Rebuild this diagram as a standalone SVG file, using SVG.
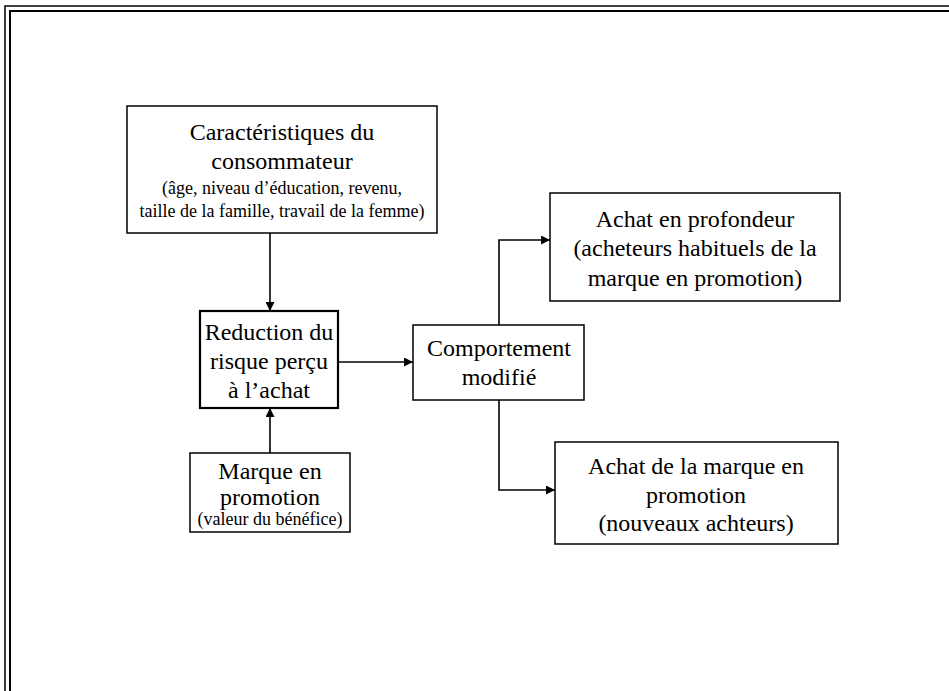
<svg xmlns="http://www.w3.org/2000/svg" width="949" height="691" viewBox="0 0 949 691">
<defs>
<marker id="ah" viewBox="0 0 10 10" refX="10" refY="5" markerWidth="9" markerHeight="9" markerUnits="userSpaceOnUse" orient="auto">
<path d="M0,0 L10,5 L0,10 z" fill="#000"/>
</marker>
<style>
.box{fill:#fff;stroke:#000;stroke-width:1.5}
.bold{stroke-width:2.2}
text{font-family:"Liberation Serif","Times New Roman",serif;fill:#000;text-anchor:middle}
.t{font-size:24px}
.s{font-size:18px}
.c{fill:none;stroke:#000;stroke-width:1.6}
.f{fill:none;stroke:#000}
</style>
</defs>
<rect width="949" height="691" fill="#fff"/>
<g id="frame">
<path class="f" stroke-width="1.5" d="M5,691 V6 H949"/>
<path class="f" stroke-width="2" d="M10,691 V11 H949"/>
</g>
<g id="connectors">
<path class="c" d="M270,233 V311" marker-end="url(#ah)"/>
<path class="c" d="M270,453 V408" marker-end="url(#ah)"/>
<path class="c" d="M338,362 H413" marker-end="url(#ah)"/>
<path class="c" d="M499,325 V240 H550" marker-end="url(#ah)"/>
<path class="c" d="M499,400 V490 H555" marker-end="url(#ah)"/>
</g>
<g id="consommateur">
<rect class="box" x="127" y="106" width="310" height="127"/>
<text class="t" x="282" y="140">Caractéristiques du</text>
<text class="t" x="282" y="169">consommateur</text>
<text class="s" x="282" y="194">(âge, niveau d’éducation, revenu,</text>
<text class="s" x="282" y="217">taille de la famille, travail de la femme)</text>
</g>
<g id="reduction">
<rect class="box bold" x="200" y="311" width="138" height="97"/>
<text class="t" x="269" y="340">Reduction du</text>
<text class="t" x="269" y="369">risque perçu</text>
<text class="t" x="269" y="398">à l’achat</text>
</g>
<g id="marque">
<rect class="box" x="190" y="453" width="160" height="79"/>
<text class="t" x="270" y="479">Marque en</text>
<text class="t" x="270" y="505">promotion</text>
<text class="s" x="270" y="525" font-size="16">(valeur du bénéfice)</text>
</g>
<g id="comportement">
<rect class="box" x="413" y="325" width="171" height="75"/>
<text class="t" x="499" y="356">Comportement</text>
<text class="t" x="499" y="385">modifié</text>
</g>
<g id="profondeur">
<rect class="box" x="550" y="193" width="290" height="108"/>
<text class="t" x="695" y="227" font-size="25">Achat en profondeur</text>
<text class="t" x="695" y="256" font-size="25">(acheteurs habituels de la</text>
<text class="t" x="695" y="286" font-size="25">marque en promotion)</text>
</g>
<g id="nouveaux">
<rect class="box" x="555" y="442" width="283" height="102"/>
<text class="t" x="696" y="474" font-size="25">Achat de la marque en</text>
<text class="t" x="696" y="503" font-size="25">promotion</text>
<text class="t" x="696" y="531" font-size="25">(nouveaux achteurs)</text>
</g>
</svg>
